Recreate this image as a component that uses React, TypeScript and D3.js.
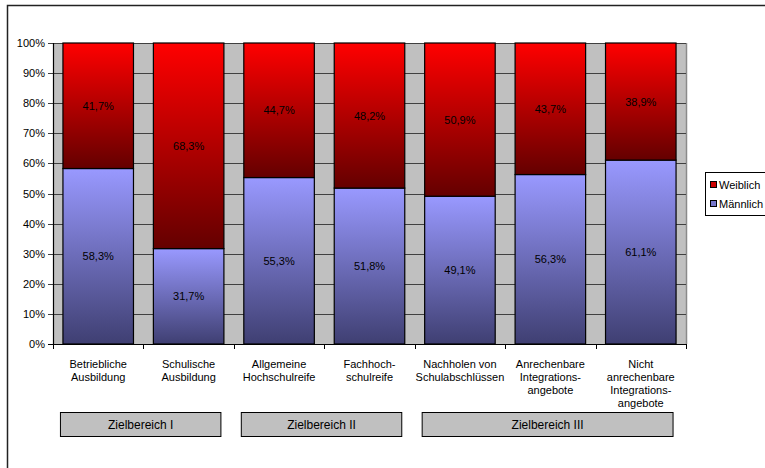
import * as d3 from 'd3';
import React, { useEffect, useRef } from 'react';

const categories = [
  ['Betriebliche', 'Ausbildung'],
  ['Schulische', 'Ausbildung'],
  ['Allgemeine', 'Hochschulreife'],
  ['Fachhoch-', 'schulreife'],
  ['Nachholen von', 'Schulabschlüssen'],
  ['Anrechenbare', 'Integrations-', 'angebote'],
  ['Nicht', 'anrechenbare', 'Integrations-', 'angebote'],
];
const maennlich = [58.3, 31.7, 55.3, 51.8, 49.1, 56.3, 61.1];
const weiblich = [41.7, 68.3, 44.7, 48.2, 50.9, 43.7, 38.9];
const yTicks = [0, 10, 20, 30, 40, 50, 60, 70, 80, 90, 100];
const groups = [
  { label: 'Zielbereich I', from: 0, to: 1 },
  { label: 'Zielbereich II', from: 2, to: 3 },
  { label: 'Zielbereich III', from: 4, to: 6 },
];

const fmt = (v: number) => v.toFixed(1).replace('.', ',') + '%';

export default function App() {
  const ref = useRef<SVGSVGElement | null>(null);

  useEffect(() => {
    const svg = d3.select(ref.current);
    svg.selectAll('*').remove();
    const font = '"Liberation Sans", Arial, sans-serif';

    const left = 53;
    const right = 686;
    const top = 43;
    const bottom = 344;

    const x = d3
      .scaleBand<number>()
      .domain(d3.range(categories.length))
      .range([left, right])
      .paddingInner(0.22)
      .paddingOuter(0.11);
    const y = d3.scaleLinear().domain([0, 100]).range([bottom, top]);

    const defs = svg.append('defs');
    const red = defs.append('linearGradient').attr('id', 'gRed').attr('x1', 0).attr('y1', 0).attr('x2', 0).attr('y2', 1);
    red.append('stop').attr('offset', '0%').attr('stop-color', '#ff0000');
    red.append('stop').attr('offset', '100%').attr('stop-color', '#640000');
    const blue = defs.append('linearGradient').attr('id', 'gBlue').attr('x1', 0).attr('y1', 0).attr('x2', 0).attr('y2', 1);
    blue.append('stop').attr('offset', '0%').attr('stop-color', '#9999ff');
    blue.append('stop').attr('offset', '100%').attr('stop-color', '#3f3f72');

    // outer frame
    svg
      .append('rect')
      .attr('x', 7.5)
      .attr('y', 5.5)
      .attr('width', 800)
      .attr('height', 500)
      .attr('fill', 'white')
      .attr('stroke', '#222')
      .attr('stroke-width', 1.5);

    // plot background
    svg
      .append('rect')
      .attr('x', left)
      .attr('y', top)
      .attr('width', right - left)
      .attr('height', bottom - top)
      .attr('fill', '#c0c0c0');
    svg
      .append('line')
      .attr('x1', right + 0.5)
      .attr('x2', right + 0.5)
      .attr('y1', top)
      .attr('y2', bottom)
      .attr('stroke', '#8a8a8a')
      .attr('stroke-width', 1.5);

    // grid
    yTicks.forEach(t => {
      svg
        .append('line')
        .attr('x1', left - 5)
        .attr('x2', right)
        .attr('y1', Math.round(y(t)) + 0.5)
        .attr('y2', Math.round(y(t)) + 0.5)
        .attr('stroke', t === 0 ? '#000' : '#404040')
        .attr('stroke-width', 1.2);
      svg
        .append('text')
        .attr('x', 45)
        .attr('y', y(t))
        .attr('text-anchor', 'end')
        .attr('dominant-baseline', 'central')
        .attr('font-family', font)
        .attr('font-size', 11)
        .attr('fill', '#000')
        .text(t + '%');
    });

    svg
      .append('line')
      .attr('x1', left + 0.5)
      .attr('x2', left + 0.5)
      .attr('y1', top)
      .attr('y2', bottom)
      .attr('stroke', '#000')
      .attr('stroke-width', 1.2);

    // x ticks at category boundaries
    d3.range(categories.length + 1).forEach(i => {
      const xx = Math.round(left + i * x.step()) + 0.5;
      svg
        .append('line')
        .attr('x1', xx)
        .attr('x2', xx)
        .attr('y1', bottom)
        .attr('y2', bottom + 5)
        .attr('stroke', '#000');
    });

    const bw = x.bandwidth();

    categories.forEach((lines, i) => {
      const x0 = x(i)!;
      const m = maennlich[i];
      const w = weiblich[i];
      svg
        .append('rect')
        .attr('x', x0)
        .attr('y', y(m))
        .attr('width', bw)
        .attr('height', y(0) - y(m))
        .attr('fill', 'url(#gBlue)')
        .attr('stroke', '#000')
        .attr('stroke-width', 1.2);
      svg
        .append('rect')
        .attr('x', x0)
        .attr('y', y(m + w))
        .attr('width', bw)
        .attr('height', y(m) - y(m + w))
        .attr('fill', 'url(#gRed)')
        .attr('stroke', '#000')
        .attr('stroke-width', 1.2);

      svg
        .append('text')
        .attr('x', x0 + bw / 2)
        .attr('y', y(m / 2))
        .attr('text-anchor', 'middle')
        .attr('dominant-baseline', 'central')
        .attr('font-family', font)
        .attr('font-size', 11)
        .attr('fill', '#000')
        .text(fmt(m));
      svg
        .append('text')
        .attr('x', x0 + bw / 2)
        .attr('y', y(m + w / 2))
        .attr('text-anchor', 'middle')
        .attr('dominant-baseline', 'central')
        .attr('font-family', font)
        .attr('font-size', 11)
        .attr('fill', '#000')
        .text(fmt(w));

      const t = svg
        .append('text')
        .attr('text-anchor', 'middle')
        .attr('font-family', font)
        .attr('font-size', 11)
        .attr('fill', '#000');
      lines.forEach((l, k) => {
        t.append('tspan')
          .attr('x', x0 + bw / 2)
          .attr('y', 368 + k * 13)
          .text(l);
      });
    });

    // Zielbereich boxes
    groups.forEach(g => {
      const gx0 = x(g.from)! - 2.5;
      const gx1 = x(g.to)! + bw - 3;
      svg
        .append('rect')
        .attr('x', gx0)
        .attr('y', 412.5)
        .attr('width', gx1 - gx0)
        .attr('height', 24)
        .attr('fill', '#c0c0c0')
        .attr('stroke', '#000')
        .attr('stroke-width', 1);
      svg
        .append('text')
        .attr('x', (gx0 + gx1) / 2)
        .attr('y', 424.5)
        .attr('text-anchor', 'middle')
        .attr('dominant-baseline', 'central')
        .attr('font-family', font)
        .attr('font-size', 12)
        .attr('fill', '#000')
        .text(g.label);
    });

    // legend
    svg
      .append('rect')
      .attr('x', 705.5)
      .attr('y', 172.5)
      .attr('width', 80)
      .attr('height', 43)
      .attr('fill', 'white')
      .attr('stroke', '#000')
      .attr('stroke-width', 1);
    const legend = [
      { label: 'Weiblich', fill: '#cc0000' },
      { label: 'Männlich', fill: '#7777cc' },
    ];
    legend.forEach((d, k) => {
      const ly = 185 + k * 19;
      svg
        .append('rect')
        .attr('x', 710.5)
        .attr('y', ly - 3.5)
        .attr('width', 6)
        .attr('height', 6)
        .attr('fill', d.fill)
        .attr('stroke', '#000')
        .attr('stroke-width', 1);
      svg
        .append('text')
        .attr('x', 719)
        .attr('y', ly)
        .attr('dominant-baseline', 'central')
        .attr('font-family', font)
        .attr('font-size', 11)
        .attr('fill', '#000')
        .text(d.label);
    });
  }, []);

  return (
    <svg
      ref={ref}
      width={765}
      height={468}
      style={{ position: 'absolute', left: 0, top: 0, display: 'block' }}
    />
  );
}
